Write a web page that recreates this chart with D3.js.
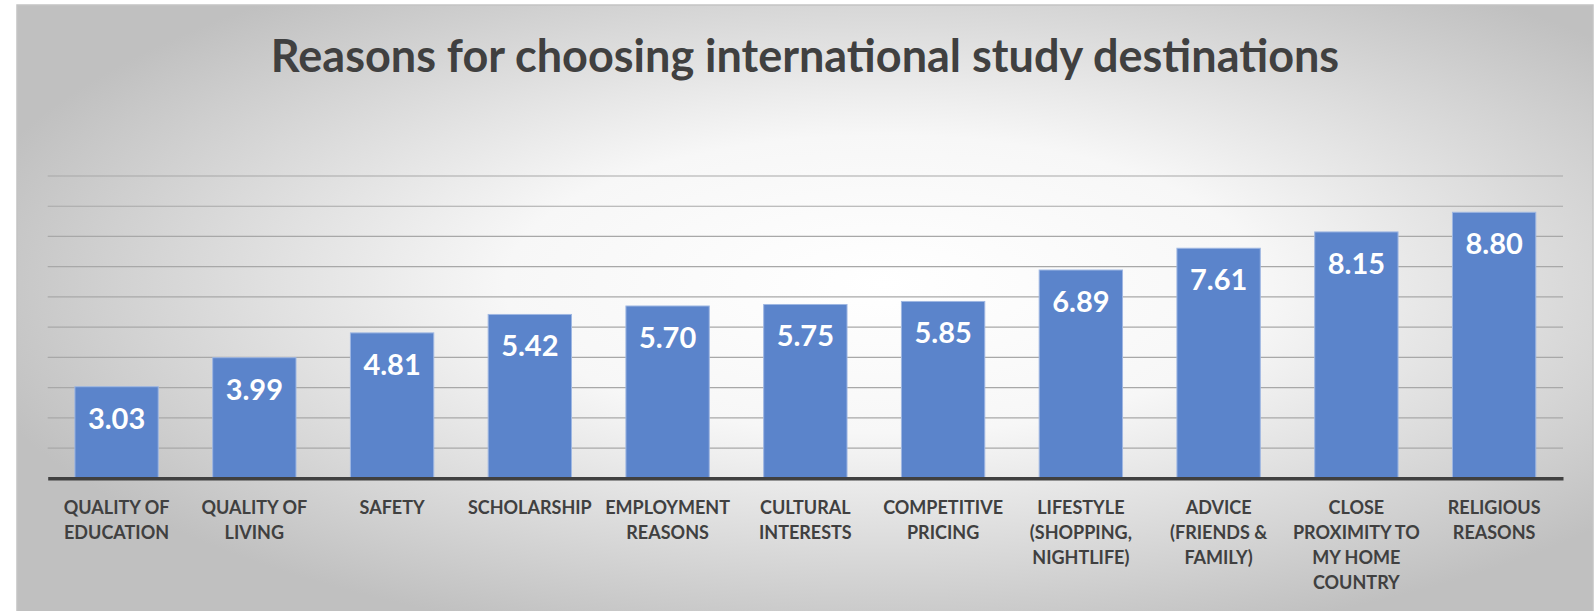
<!DOCTYPE html>
<html>
<head>
<meta charset="utf-8">
<script src="https://cdn.jsdelivr.net/npm/d3@7"></script>
<style>
  html, body { margin: 0; padding: 0; background: #fff; }
  svg { display: block; }
</style>
</head>
<body>
<script>
'use strict';

// data
const categories = [
  'QUALITY OF\nEDUCATION',
  'QUALITY OF\nLIVING',
  'SAFETY',
  'SCHOLARSHIP',
  'EMPLOYMENT\nREASONS',
  'CULTURAL\nINTERESTS',
  'COMPETITIVE\nPRICING',
  'LIFESTYLE\n(SHOPPING,\nNIGHTLIFE)',
  'ADVICE\n(FRIENDS &\nFAMILY)',
  'CLOSE\nPROXIMITY TO\nMY HOME\nCOUNTRY',
  'RELIGIOUS\nREASONS'
];
const values = [3.03, 3.99, 4.81, 5.42, 5.70, 5.75, 5.85, 6.89, 7.61, 8.15, 8.80];
const gridTicks = d3.range(1, 11);
const title = 'Reasons for choosing international study destinations';

const W = 1596, H = 611;
const frame = { x: 17, y: 5, w: 1576, h: 620 };
const plot = { left: 47.7, right: 1563, top: 176, bottom: 478.3 };

const svg = d3.select('body')
  .append('svg')
  .attr('width', W)
  .attr('height', H);

const defs = svg.append('defs');
const bg = defs.append('radialGradient')
  .attr('id', 'bg')
  .attr('cx', 0.55).attr('cy', 0.45)
  .attr('r', 0.6)
  .attr('fx', 0.55).attr('fy', 0.45);
bg.append('stop').attr('offset', 0).attr('stop-color', '#ffffff');
bg.append('stop').attr('offset', 0.4).attr('stop-color', '#f7f7f7');
bg.append('stop').attr('offset', 1).attr('stop-color', '#c0c0c0');

svg.append('rect')
  .attr('x', frame.x).attr('y', frame.y)
  .attr('width', frame.w).attr('height', frame.h)
  .attr('fill', 'url(#bg)')
  .attr('stroke', '#c4c4c4')
  .attr('stroke-width', 1.5);

svg.append('text')
  .attr('x', frame.x + frame.w / 2)
  .attr('y', 72)
  .attr('text-anchor', 'middle')
  .style('font-family', 'Lato, "Open Sans", sans-serif')
  .style('font-weight', 700)
  .style('font-size', '45px')
  .style('fill', '#404040')
  .text(title);

const x = d3.scaleBand()
  .domain(categories)
  .range([plot.left, plot.right])
  .paddingInner(0.395)
  .paddingOuter(0.1975);

const y = d3.scaleLinear()
  .domain([0, 10])
  .range([plot.bottom, plot.top]);

// gridlines
svg.append('g')
  .selectAll('line')
  .data(gridTicks)
  .join('line')
  .attr('x1', plot.left).attr('x2', plot.right)
  .attr('y1', d => y(d)).attr('y2', d => y(d))
  .attr('stroke', '#a8a8a8')
  .attr('stroke-width', 1.2);

// bars
svg.append('g')
  .selectAll('rect')
  .data(values)
  .join('rect')
  .attr('x', (d, i) => x(categories[i]))
  .attr('y', d => y(d))
  .attr('width', x.bandwidth())
  .attr('height', d => y(0) - y(d))
  .attr('fill', '#5b84cb')
  .attr('stroke', '#9fb7e2')
  .attr('stroke-width', 1);

// value labels
svg.append('g')
  .selectAll('text')
  .data(values)
  .join('text')
  .attr('x', (d, i) => x(categories[i]) + x.bandwidth() / 2)
  .attr('y', d => y(d) + 42)
  .attr('text-anchor', 'middle')
  .style('font-family', 'Lato, "Open Sans", sans-serif')
  .style('font-weight', 700)
  .style('font-size', '29px')
  .style('fill', '#ffffff')
  .text(d => d.toFixed(2));

// x axis
const xAxis = svg.append('g')
  .attr('transform', `translate(0,${plot.bottom})`)
  .call(d3.axisBottom(x).tickSize(0).tickFormat(''));
xAxis.select('.domain')
  .attr('stroke', '#404040')
  .attr('stroke-width', 3.5);

const labels = svg.append('g')
  .selectAll('text')
  .data(categories)
  .join('text')
  .attr('x', d => x(d) + x.bandwidth() / 2)
  .attr('y', 514)
  .attr('text-anchor', 'middle')
  .style('font-family', 'Lato, "Open Sans", sans-serif')
  .style('font-weight', 700)
  .style('font-size', '18px')
  .style('fill', '#404040');

labels.selectAll('tspan')
  .data(d => d.split('\n'))
  .join('tspan')
  .attr('x', function() { return this.parentNode.getAttribute('x'); })
  .attr('dy', (d, i) => i === 0 ? 0 : 25)
  .text(d => d);
</script>
</body>
</html>
